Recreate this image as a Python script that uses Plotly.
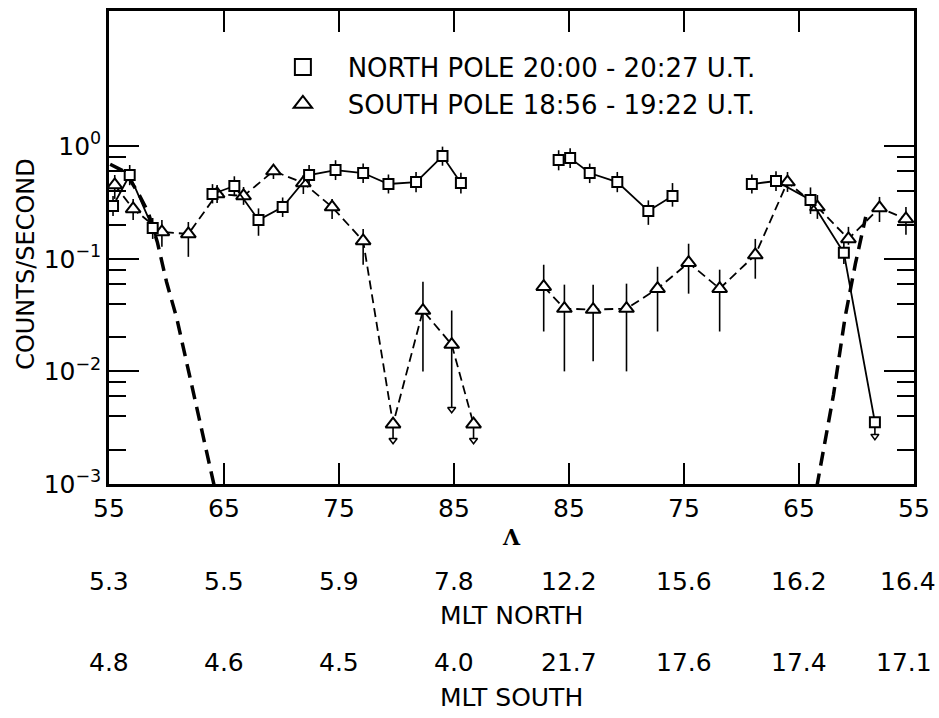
import plotly.graph_objects as go

# ---------------- data ----------------
# x axis: invariant latitude Lambda; left half rises 55 -> 85+, right half falls 85+ -> 55
tick_lam_left = [55, 65, 75, 85]
tick_lam_right = [85, 75, 65, 55]
tick_text = ["55", "65", "75", "85", "85", "75", "65", "55"]

# North pole 20:00-20:27 UT (squares, solid line) - separate continuous segments
n_l1_lam = [55.35, 56.8, 58.8]
n_l1_cps = [0.294, 0.554, 0.188]
n_l1_hi = [0.36, 0.68, 0.23]
n_l1_lo = [0.24, 0.45, 0.15]

n_l2_lam = [64.0, 65.9, 68.0, 70.1, 72.4, 74.7, 77.1, 79.3, 81.7, 84.0, 85.6]
n_l2_cps = [0.376, 0.443, 0.221, 0.288, 0.554, 0.613, 0.577, 0.461, 0.480, 0.816, 0.471]
n_l2_hi = [0.46, 0.54, 0.28, 0.35, 0.68, 0.75, 0.70, 0.56, 0.59, 0.99, 0.58]
n_l2_lo = [0.31, 0.36, 0.16, 0.235, 0.45, 0.50, 0.47, 0.38, 0.39, 0.67, 0.38]

n_r1_lam = [85.9, 84.9, 83.2, 80.8, 78.1, 76.0]
n_r1_cps = [0.752, 0.783, 0.577, 0.480, 0.266, 0.361]
n_r1_hi = [0.92, 0.96, 0.70, 0.59, 0.33, 0.47]
n_r1_lo = [0.61, 0.64, 0.47, 0.39, 0.20, 0.29]

n_r2_lam = [69.1, 67.0, 64.0, 61.1, 58.4]
n_r2_cps = [0.461, 0.490, 0.333, 0.113, 0.00354]
n_r2_hi = [0.56, 0.60, 0.43, 0.14, 0.00354]
n_r2_lo = [0.38, 0.40, 0.25, 0.09, 0.00266]
n_r2_arrow = [False, False, False, False, True]

# South pole 18:56-19:22 UT (triangles, dashed line)
s_l_lam = [55.5, 57.1, 59.6, 61.9, 64.4, 66.7, 69.3, 71.9, 74.4, 77.1, 79.7, 82.3, 84.8, 86.7]
s_l_cps = [0.452, 0.277, 0.173, 0.166, 0.376, 0.361, 0.601, 0.471, 0.288, 0.144, 0.0034, 0.0347, 0.0173, 0.0034]
s_l_hi = [0.554, 0.340, 0.221, 0.212, 0.452, 0.434, 0.679, 0.554, 0.340, 0.184, 0.0034, 0.0626, 0.0347, 0.0034]
s_l_lo = [0.340, 0.221, 0.128, 0.104, 0.313, 0.301, 0.511, 0.376, 0.226, 0.0885, 0.00245, 0.0100, 0.00461, 0.00245]
s_l_arrow = [False] * 10 + [True, False, True, True]

s_r_lam = [87.2, 85.4, 82.9, 80.0, 77.3, 74.6, 71.9, 68.8, 66.0, 63.4, 60.7, 58.0, 55.7]
s_r_cps = [0.0565, 0.0361, 0.0354, 0.0361, 0.0543, 0.0922, 0.0543, 0.108, 0.480, 0.288, 0.150, 0.283, 0.226]
s_r_hi = [0.0885, 0.0589, 0.0589, 0.0601, 0.0849, 0.136, 0.080, 0.150, 0.589, 0.368, 0.192, 0.354, 0.288]
s_r_lo = [0.0226, 0.0100, 0.0123, 0.0100, 0.0226, 0.049, 0.0226, 0.0665, 0.392, 0.226, 0.133, 0.212, 0.163]
s_r_arrow = [False] * 13

# heavy dashed curves
m_l_lam = [55.1, 56.4, 57.5, 58.4, 59.2, 60.0, 60.9, 61.8, 62.9, 63.8, 64.6]
m_l_cps = [0.69, 0.59, 0.39, 0.26, 0.141, 0.0625, 0.0294, 0.0115, 0.00384, 0.0015, 0.0006]
m_r_lam = [63.8, 63.5, 62.0, 61.0, 60.1, 59.2]
m_r_cps = [0.0006, 0.0009, 0.0062, 0.030, 0.090, 0.235]

mlt_north = ["5.3", "5.5", "5.9", "7.8", "12.2", "15.6", "16.2", "16.4"]
mlt_south = ["4.8", "4.6", "4.5", "4.0", "21.7", "17.6", "17.4", "17.1"]

y_tick_vals = [1e-3, 1e-2, 1e-1, 1]
y_tick_text = ["10<sup>−3</sup>", "10<sup>−2</sup>", "10<sup>−1</sup>", "10<sup>0</sup>"]
y_minor_vals = [0.002, 0.004, 0.006, 0.008, 0.02, 0.04, 0.06, 0.08,
                0.2, 0.4, 0.6, 0.8]

# ---------------- helpers ----------------
def pos(lams, side):
    # map latitude to position along the polar pass (left half ascending, right half descending)
    if side == "L":
        return [l - 55 for l in lams]
    return [40 + (85 - l) for l in lams]

FONT = "DejaVu Sans"
fig = go.Figure()

def add_series(lams, cps, hi, lo, side, symbol, size, dash, arrows=None):
    x = pos(lams, side)
    fig.add_trace(go.Scatter(
        x=x, y=cps, mode="lines+markers", showlegend=False,
        line=dict(color="black", width=1.8, dash=dash),
        marker=dict(symbol=symbol, size=size, color="white",
                    line=dict(color="black", width=2)),
        error_y=dict(type="data", symmetric=False,
                     array=[h - c for h, c in zip(hi, cps)],
                     arrayminus=[c - l for c, l in zip(cps, lo)],
                     color="black", thickness=1.6, width=0),
    ))
    if arrows and any(arrows):
        ax = [xx for xx, a in zip(x, arrows) if a]
        ay = [l for l, a in zip(lo, arrows) if a]
        fig.add_trace(go.Scatter(
            x=ax, y=ay, mode="markers", showlegend=False,
            marker=dict(symbol="triangle-down", size=7, color="white",
                        line=dict(color="black", width=1.5)),
        ))

# heavy dashed curves
for lams, cps, side in [(m_l_lam, m_l_cps, "L"), (m_r_lam, m_r_cps, "R")]:
    fig.add_trace(go.Scatter(x=pos(lams, side), y=cps, mode="lines", showlegend=False,
                             line=dict(color="black", width=3.5, dash="14px,8px")))

SDASH = "9px,5px"
add_series(s_l_lam, s_l_cps, s_l_hi, s_l_lo, "L", "triangle-up", 13, SDASH, s_l_arrow)
add_series(s_r_lam, s_r_cps, s_r_hi, s_r_lo, "R", "triangle-up", 13, SDASH, s_r_arrow)
add_series(n_l1_lam, n_l1_cps, n_l1_hi, n_l1_lo, "L", "square", 10, "solid")
add_series(n_l2_lam, n_l2_cps, n_l2_hi, n_l2_lo, "L", "square", 10, "solid")
add_series(n_r1_lam, n_r1_cps, n_r1_hi, n_r1_lo, "R", "square", 10, "solid")
add_series(n_r2_lam, n_r2_cps, n_r2_hi, n_r2_lo, "R", "square", 10, "solid", n_r2_arrow)

# legend entries
fig.add_trace(go.Scatter(x=[None], y=[None], mode="markers",
                         name="\u00a0\u00a0\u00a0NORTH POLE 20:00 - 20:27 U.T.",
                         marker=dict(symbol="square", size=16, color="white",
                                     line=dict(color="black", width=2))))
fig.add_trace(go.Scatter(x=[None], y=[None], mode="markers",
                         name="\u00a0\u00a0\u00a0SOUTH POLE 18:56 - 19:22 U.T.",
                         marker=dict(symbol="triangle-up", size=17, color="white",
                                     line=dict(color="black", width=2))))

tick_pos = pos(tick_lam_left, "L") + pos(tick_lam_right, "R")

fig.update_layout(
    width=939, height=718, autosize=False,
    margin=dict(l=109, r=25, t=8, b=234),
    paper_bgcolor="white", plot_bgcolor="white",
    font=dict(family=FONT, color="black", size=25),
    showlegend=True,
    legend=dict(x=0.216, y=0.931, xanchor="left", yanchor="top",
                bgcolor="rgba(0,0,0,0)", borderwidth=0,
                font=dict(family=FONT, size=26, color="black"),
                tracegroupgap=0, itemclick=False),
    xaxis=dict(range=[0, 70], tickmode="array", tickvals=tick_pos, ticktext=tick_text,
               ticks="inside", ticklen=21, tickwidth=2, tickcolor="black",
               showline=True, linewidth=2.5, linecolor="black", mirror="ticks",
               showgrid=False, zeroline=False,
               tickfont=dict(family=FONT, size=25, color="black")),
    yaxis=dict(type="log", range=[-3, 1.2], tickmode="array",
               tickvals=y_tick_vals, ticktext=y_tick_text,
               ticks="inside", ticklen=30, tickwidth=2, tickcolor="black",
               minor=dict(tickmode="array", tickvals=y_minor_vals, ticks="inside",
                          ticklen=17, tickwidth=2, tickcolor="black", showgrid=False),
               showline=True, linewidth=2.5, linecolor="black", mirror="ticks",
               showgrid=False, zeroline=False,
               tickfont=dict(family=FONT, size=25, color="black")),
)

ann = []
ann.append(dict(text="COUNTS/SECOND", xref="paper", yref="paper", x=-0.104, y=0.466,
                textangle=-90, showarrow=False, xanchor="center", yanchor="middle",
                font=dict(family=FONT, size=24)))
ann.append(dict(text="<b>Λ</b>", xref="paper", yref="paper", x=0.5, y=-0.113,
                showarrow=False, xanchor="center", yanchor="middle",
                font=dict(family="DejaVu Serif", size=22)))
for i, (tn, ts) in enumerate(zip(mlt_north, mlt_south)):
    last = i == len(mlt_north) - 1
    ann.append(dict(text=tn, xref="x", yref="paper", x=tick_pos[i], y=-0.206,
                    xshift=-6 if last else 0, showarrow=False, xanchor="center",
                    yanchor="middle", font=dict(family=FONT, size=25)))
    ann.append(dict(text=ts, xref="x", yref="paper", x=tick_pos[i], y=-0.378,
                    xshift=-10 if last else 0, showarrow=False,
                    xanchor="center", yanchor="middle", font=dict(family=FONT, size=25)))
ann.append(dict(text="MLT NORTH", xref="paper", yref="paper", x=0.5, y=-0.277,
                showarrow=False, xanchor="center", yanchor="middle", font=dict(family=FONT, size=25)))
ann.append(dict(text="MLT SOUTH", xref="paper", yref="paper", x=0.5, y=-0.452,
                showarrow=False, xanchor="center", yanchor="middle", font=dict(family=FONT, size=25)))
fig.update_layout(annotations=ann)

fig.write_html("out.html")
